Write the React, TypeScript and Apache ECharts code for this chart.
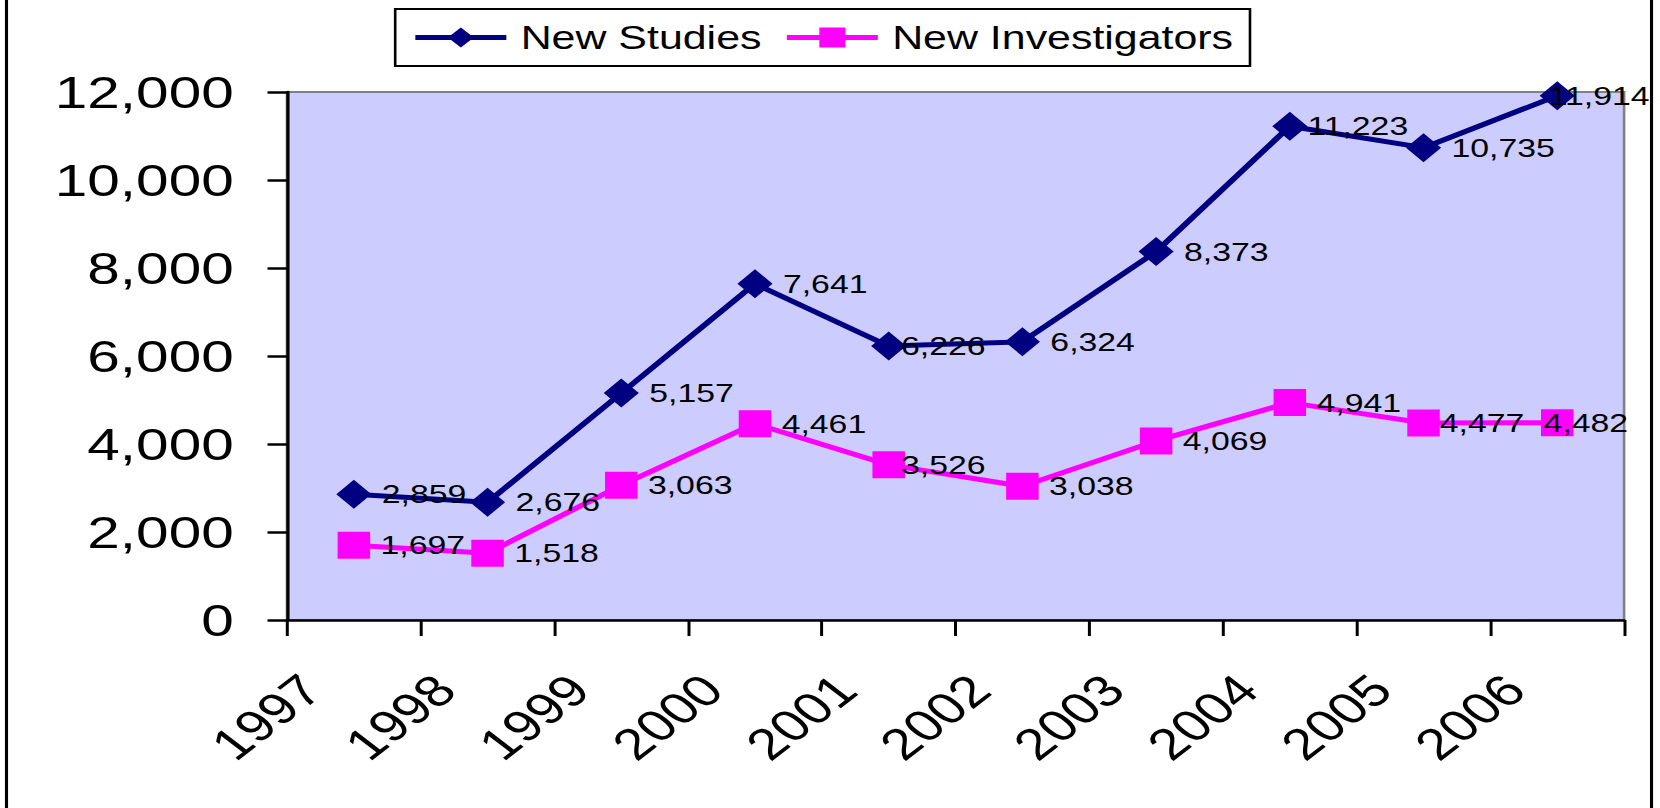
import React, { useEffect, useRef } from 'react';
import * as echarts from 'echarts';

// ---- data ----
const years = ['1997', '1998', '1999', '2000', '2001', '2002', '2003', '2004', '2005', '2006'];
const newStudies = [2859, 2676, 5157, 7641, 6226, 6324, 8373, 11223, 10735, 11914];
const newInvestigators = [1697, 1518, 3063, 4461, 3526, 3038, 4069, 4941, 4477, 4482];
const yMin = 0;
const yMax = 12000;
const yStep = 2000;

// label nudges (styling only, horizontal px)
const studiesNudge = [0, 0, 0, 0, -12, 0, 0, -8, 0, -28];
const investigatorsNudge = [0, 0, 0, 0, -11, 0, 0, 0, -8, -31];

// The reference is horizontally stretched; render narrower and stretch.
const STRETCH = 1.3;
const W = 1660 / STRETCH;
const H = 808;
const FONT = '"Liberation Sans", Arial, sans-serif';

const fmt = (v: number) => Number(v).toLocaleString('en-US');

function buildOption() {
  const mk = (vals: number[], nudges: number[]) =>
    vals.map((v, i) => (nudges[i] ? { value: v, label: { offset: [nudges[i], 0] } } : { value: v }));
  const labelCfg = {
    show: true,
    position: 'right',
    distance: 8,
    fontSize: 26,
    color: '#000',
    fontFamily: FONT,
    formatter: (p: any) => fmt(p.value),
  };
  return {
    animation: false,
    backgroundColor: '#ffffff',
    textStyle: { fontFamily: FONT },
    grid: {
      left: 287 / STRETCH,
      right: W - 1624 / STRETCH,
      top: 92,
      bottom: H - 620,
      show: true,
      backgroundColor: '#CCCCFF',
      borderColor: '#808080',
      borderWidth: 2,
      containLabel: false,
      outerBoundsMode: 'none',
    },
    legend: {
      left: 304,
      top: 9,
      orient: 'horizontal',
      padding: [12, 13, 12, 13],
      itemGap: 17,
      itemWidth: 70,
      itemHeight: 25,
      borderColor: '#000',
      borderWidth: 2,
      backgroundColor: '#fff',
      lineStyle: { width: 5 },
      textStyle: { fontSize: 33, color: '#000', fontFamily: FONT, padding: [0, 0, 0, 6] },
      data: ['New Studies', 'New Investigators'],
    },
    xAxis: {
      type: 'category',
      data: years,
      boundaryGap: true,
      axisLine: { show: true, lineStyle: { color: '#000', width: 2.5 } },
      axisTick: { show: true, length: 16, interval: 0, lineStyle: { color: '#000', width: 2.3 } },
      axisLabel: {
        interval: 0,
        rotate: 45,
        margin: 30,
        fontSize: 44,
        color: '#000',
        fontFamily: FONT,
        padding: [0, 46, 0, 0],
      },
      splitLine: { show: false },
    },
    yAxis: {
      type: 'value',
      min: yMin,
      max: yMax,
      interval: yStep,
      axisLine: { show: true, lineStyle: { color: '#000', width: 2.5 } },
      axisTick: { show: true, length: 15, lineStyle: { color: '#000', width: 2.5 } },
      axisLabel: {
        margin: 41,
        fontSize: 45,
        color: '#000',
        fontFamily: FONT,
        formatter: (v: number) => fmt(v),
      },
      splitLine: { show: false },
    },
    graphic: [
      {
        type: 'rect',
        silent: true,
        shape: { x: 5, y: -20, width: 1270.4 - 5, height: H + 40 },
        style: { fill: 'none', stroke: '#000', lineWidth: 2.4 },
      },
    ],
    series: [
      {
        name: 'New Studies',
        type: 'line',
        data: mk(newStudies, studiesNudge),
        symbol: 'diamond',
        symbolSize: [27, 29],
        lineStyle: { color: '#000080', width: 5 },
        itemStyle: { color: '#000080' },
        label: labelCfg,
        z: 3,
      },
      {
        name: 'New Investigators',
        type: 'line',
        data: mk(newInvestigators, investigatorsNudge),
        symbol: 'rect',
        symbolSize: [25, 27],
        lineStyle: { color: '#FF00FF', width: 5 },
        itemStyle: { color: '#FF00FF' },
        label: labelCfg,
        z: 2,
      },
    ],
  };
}

export default function App() {
  const ref = useRef<HTMLDivElement>(null);
  useEffect(() => {
    if (!ref.current) return;
    const chart = echarts.init(ref.current, null, { renderer: 'svg' });
    chart.setOption(buildOption() as any);
    return () => chart.dispose();
  }, []);
  return (
    <div
      ref={ref}
      style={{
        position: 'fixed',
        left: 0,
        top: 0,
        width: W,
        height: H,
        transform: `scaleX(${STRETCH})`,
        transformOrigin: '0 0',
        background: '#fff',
      }}
    />
  );
}
